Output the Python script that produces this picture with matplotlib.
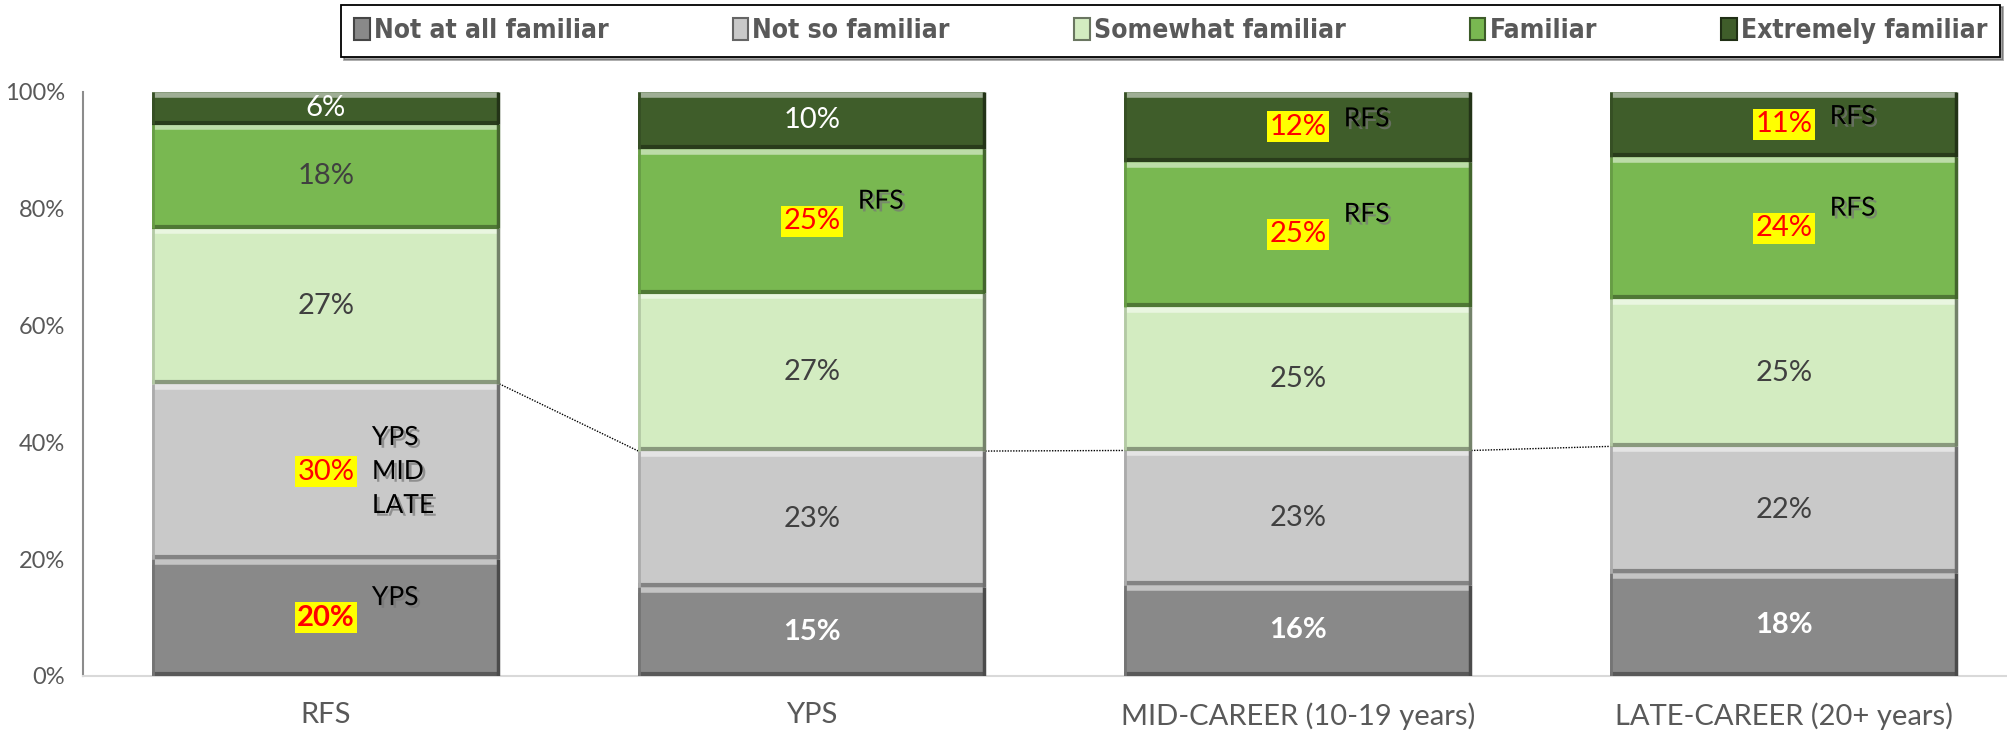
import matplotlib
matplotlib.use("Agg")
import matplotlib.pyplot as plt
import matplotlib.patheffects as pe
from matplotlib.patches import Patch
import matplotlib.colors as mcolors
import numpy as np

plt.rcParams['font.family'] = ['Lato', 'DejaVu Sans']

categories = ['RFS', 'YPS', 'MID-CAREER (10-19 years)', 'LATE-CAREER (20+ years)']
series = ['Not at all familiar', 'Not so familiar', 'Somewhat familiar',
          'Familiar', 'Extremely familiar']
# percent per series, one value per category
not_at_all = [20.0, 15.2, 15.6, 17.6]
not_so = [30.0, 23.3, 23.0, 21.7]
somewhat = [26.6, 27.0, 24.6, 25.2]
familiar = [17.8, 24.7, 24.8, 24.3]
extremely = [5.6, 9.8, 12.0, 11.2]
values = [not_at_all, not_so, somewhat, familiar, extremely]
colors = ['#898989', '#c9c9c9', '#d3ecc1', '#79b851', '#3f5d2a']
yticks = [0, 20, 40, 60, 80, 100]

# highlighted labels (category, series) and the notes beside them
highlight = [(0, 0), (0, 1), (1, 3), (2, 4), (2, 3), (3, 4), (3, 3)]
notes = {(0, 0): 'YPS', (0, 1): 'YPS\nMID\nLATE', (1, 3): 'RFS',
         (2, 4): 'RFS', (2, 3): 'RFS', (3, 4): 'RFS', (3, 3): 'RFS'}


def shade(c, f):
    r = np.array(mcolors.to_rgb(c))
    if f > 0:
        return tuple(r + (1 - r) * f)
    return tuple(r * (1 + f))


fig = plt.figure(figsize=(20.08, 7.33), dpi=100)
ax = fig.add_axes([0.0413, 0.0778, 0.968, 0.797])

x = np.arange(len(categories))
w = 0.714
bottom = np.zeros(len(categories))
tops = []
for s, vals in enumerate(values):
    vals = np.array(vals)
    ax.bar(x, vals, w, bottom=bottom, color=colors[s], edgecolor='none', zorder=2)
    top = bottom + vals
    # bevel look
    ax.hlines(top - 0.5, x - w / 2, x + w / 2, color=shade(colors[s], 0.5), lw=4, zorder=3)
    ax.hlines(bottom + 0.3, x - w / 2, x + w / 2, color=shade(colors[s], -0.35), lw=3, zorder=3)
    for i in range(len(x)):
        ax.vlines(x[i] + w / 2 - 0.002, bottom[i], top[i], color=shade(colors[s], -0.45), lw=2.5, zorder=3)
        ax.vlines(x[i] - w / 2 + 0.002, bottom[i], top[i], color=shade(colors[s], -0.15), lw=2, zorder=3)
    for i in range(len(x)):
        v = vals[i]
        cy = bottom[i] + v / 2
        txt = f"{v:.0f}%"
        if (i, s) in highlight:
            bold = (i, s) == (0, 0)
            ax.text(x[i], cy, txt, ha='center', va='center', fontsize=21, color='#ff0000',
                    fontweight='bold' if bold else 'normal', zorder=5,
                    bbox=dict(boxstyle='square,pad=0.08', fc='#ffff00', ec='none'))
            note = notes[(i, s)]
            if '\n' in note:
                dy = 0
            elif s == 4:
                dy = 8
            else:
                dy = 20
            ax.annotate(note, (x[i], cy), xytext=(46, dy), textcoords='offset pixels',
                        ha='left', va='center', fontsize=19, color='black',
                        linespacing=1.45, zorder=5,
                        path_effects=[pe.withSimplePatchShadow(offset=(2, -2), shadow_rgbFace='#777777', alpha=0.7)])
        elif s == 0:
            ax.text(x[i], cy, txt, ha='center', va='center', fontsize=21,
                    color='white', fontweight='bold', zorder=5)
        elif s == 4:
            ax.text(x[i], cy, txt, ha='center', va='center', fontsize=21,
                    color='white', zorder=5)
        else:
            ax.text(x[i], cy, txt, ha='center', va='center', fontsize=21,
                    color='#404040', zorder=5)
    tops.append(top)
    bottom = top

# series lines for "Not so familiar"
sl = tops[1]
for i in range(len(x) - 1):
    ax.plot([x[i] + w / 2, x[i + 1] - w / 2], [sl[i], sl[i + 1]], ls=(0, (1, 1)),
            color='black', lw=1, zorder=1)

ax.set_xlim(-0.5, len(categories) - 0.5)
ax.set_ylim(0, 100)
ax.set_yticks(yticks)
ax.set_yticklabels([f"{t}%" for t in yticks], fontsize=17, color='#595959')
ax.set_xticks(x)
ax.set_xticklabels(categories, fontsize=21, color='#595959')
ax.tick_params(axis='y', length=0, pad=13)
ax.tick_params(axis='x', length=0, pad=19)
for sp in ['top', 'right']:
    ax.spines[sp].set_visible(False)
ax.spines['left'].set_color('#8c8c8c')
ax.spines['left'].set_linewidth(1.5)
ax.spines['bottom'].set_color('#d9d9d9')
ax.spines['bottom'].set_linewidth(1.5)

handles = [Patch(facecolor=c, edgecolor=shade(c, -0.5), lw=1.5) for c in colors]
leg = fig.legend(handles, series, loc='center', bbox_to_anchor=(0.583, 0.958), ncol=5,
                 frameon=True, fancybox=False, edgecolor='black', shadow=True,
                 handlelength=0.6, handleheight=0.9, handletextpad=0.15,
                 columnspacing=4.7, borderpad=0.5, borderaxespad=0,
                 prop=dict(family='DejaVu Sans', stretch='condensed', weight='bold', size=19))
leg.get_frame().set_linewidth(1.3)
for t in leg.get_texts():
    t.set_color('#595959')

fig.savefig('out.png', dpi=100)
